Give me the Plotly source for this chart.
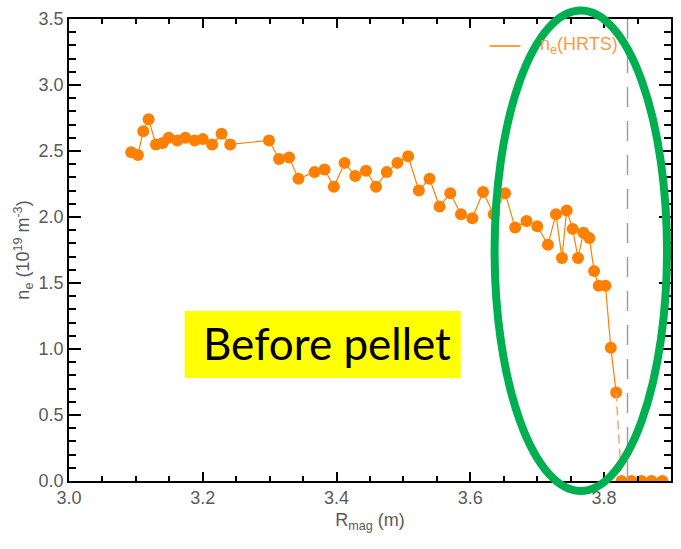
import plotly.graph_objects as go

# HRTS electron density profile, R_mag (m) vs n_e (1e19 m^-3)
r_mag = [3.093, 3.103, 3.111, 3.119, 3.130, 3.140, 3.149, 3.162, 3.174, 3.188,
         3.200, 3.214, 3.228, 3.241, 3.299, 3.314, 3.329, 3.343, 3.367, 3.382,
         3.396, 3.412, 3.428, 3.444, 3.459, 3.475, 3.491, 3.507, 3.523, 3.539,
         3.554, 3.570, 3.586, 3.603, 3.619, 3.635, 3.652, 3.667, 3.684, 3.700,
         3.716, 3.728, 3.737, 3.744, 3.753, 3.761, 3.769, 3.778, 3.785, 3.792,
         3.802, 3.810, 3.818]
n_e = [2.49, 2.47, 2.65, 2.74, 2.55, 2.56, 2.60, 2.58, 2.60, 2.58,
       2.59, 2.55, 2.63, 2.55, 2.58, 2.44, 2.45, 2.29, 2.34, 2.36,
       2.23, 2.41, 2.31, 2.35, 2.23, 2.34, 2.41, 2.46, 2.20, 2.29,
       2.08, 2.18, 2.02, 1.99, 2.19, 2.02, 2.18, 1.92, 1.97, 1.93,
       1.79, 2.02, 1.69, 2.05, 1.91, 1.69, 1.88, 1.84, 1.59, 1.48,
       1.48, 1.01, 0.67]

# points outside the separatrix (zero density)
r_edge = [3.826, 3.841, 3.856, 3.871, 3.887]
n_edge = [0.0, 0.0, 0.0, 0.0, 0.0]

r_sep = 3.835  # separatrix position

x_ticks = [3.0, 3.2, 3.4, 3.6, 3.8]
y_ticks = [0.0, 0.5, 1.0, 1.5, 2.0, 2.5, 3.0, 3.5]

ORANGE = "#FF8000"
GREY_TXT = "#5a5a5a"
FONT = "Liberation Sans"

fig = go.Figure()

fig.add_trace(go.Scatter(
    x=r_mag, y=n_e, mode="lines+markers",
    line=dict(color=ORANGE, width=1.2),
    marker=dict(color=ORANGE, size=12),
    showlegend=False,
))
# dashed link across the gap to the edge points
fig.add_trace(go.Scatter(
    x=[r_mag[-1], r_edge[0]], y=[n_e[-1], n_edge[0]], mode="lines",
    line=dict(color="#F9A66C", width=1.5, dash="9px,5px"),
    showlegend=False,
))
fig.add_trace(go.Scatter(
    x=r_edge, y=n_edge, mode="lines+markers",
    line=dict(color=ORANGE, width=1.2),
    marker=dict(color=ORANGE, size=12),
    showlegend=False,
))

# separatrix marker
fig.add_shape(type="line", xref="x", yref="paper", x0=r_sep, x1=r_sep, y0=0, y1=1,
              line=dict(color="#a0a0a0", width=1.5, dash="20px,14px"))

# legend entry
fig.add_shape(type="line", xref="paper", yref="paper",
              x0=(491 - 69) / 604, x1=(522 - 69) / 604,
              y0=(481 - 46) / 462, y1=(481 - 46) / 462,
              line=dict(color=ORANGE, width=1.5))
fig.add_annotation(xref="paper", yref="paper", x=(540 - 69) / 604, y=(481 - 46) / 462,
                   xanchor="left", yanchor="middle", showarrow=False,
                   text="n<sub>e</sub>(HRTS)", font=dict(family=FONT, size=18, color="#FF9A40"))

# highlight ring around the edge region
fig.add_shape(type="circle", xref="paper", yref="paper",
              x0=(496 - 69) / 604, x1=(669 - 69) / 604,
              y0=(481 - 491) / 462, y1=(481 - 10.5) / 462,
              line=dict(color="#00B050", width=8), fillcolor="rgba(0,0,0,0)")

# label box
fig.add_shape(type="rect", xref="paper", yref="paper",
              x0=(185 - 69) / 604, x1=(462 - 69) / 604,
              y0=(481 - 378) / 462, y1=(481 - 311) / 462,
              line=dict(width=0), fillcolor="#FFFF00")
fig.add_annotation(xref="paper", yref="paper", x=(328 - 69) / 604, y=(481 - 343) / 462,
                   xanchor="center", yanchor="middle", showarrow=False,
                   text="Before pellet", font=dict(family="Lato", size=44, color="black"))

axis_common = dict(
    showline=True, linecolor="black", linewidth=1.5, mirror="ticks",
    ticks="inside", tickcolor="black", tickwidth=1.5,
    showgrid=False, zeroline=False,
    tickfont=dict(family=FONT, size=18, color=GREY_TXT),
)

fig.update_xaxes(
    range=[3.0, 3.9], tickvals=x_ticks, ticktext=[f"{v:.1f}" for v in x_ticks],
    ticklen=9,
    minor=dict(dtick=0.05, tick0=3.0, ticks="inside", ticklen=5, tickcolor="black", tickwidth=1.5),
    title=dict(text="R<sub>mag</sub> (m)", font=dict(family=FONT, size=18, color=GREY_TXT), standoff=6),
    **axis_common,
)
fig.update_yaxes(
    range=[0, 3.5], tickvals=y_ticks, ticktext=[f"{v:.1f}" for v in y_ticks],
    ticklen=12,
    minor=dict(dtick=0.1, tick0=0, ticks="inside", ticklen=7, tickcolor="black", tickwidth=1.5),
    title=dict(text="n<sub>e</sub> (10<sup>19</sup> m<sup>-3</sup>)",
               font=dict(family=FONT, size=18, color=GREY_TXT), standoff=4),
    **axis_common,
)

fig.update_layout(
    width=681, height=549,
    margin=dict(l=69, r=8, t=19, b=68),
    paper_bgcolor="white", plot_bgcolor="white",
    showlegend=False,
)

fig.write_html("out.html")
